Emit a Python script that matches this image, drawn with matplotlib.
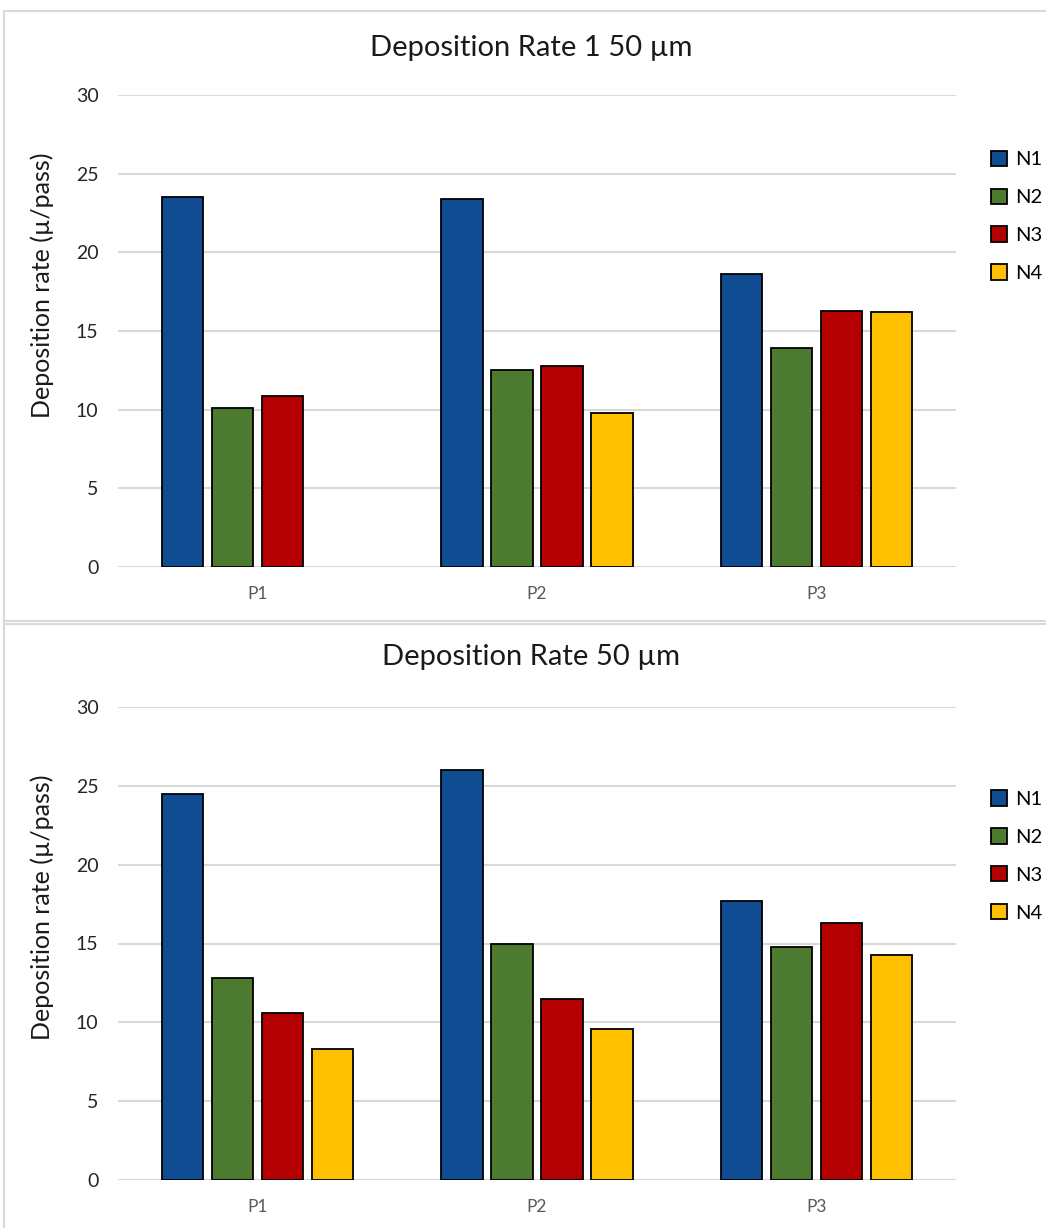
import numpy as np
import matplotlib
matplotlib.use("Agg")
import matplotlib.pyplot as plt
from matplotlib.lines import Line2D
from matplotlib.patches import Patch

plt.rcParams["font.family"] = ["Lato", "DejaVu Sans"]

passes = ["P1", "P2", "P3"]
nozzles = ["N1", "N2", "N3", "N4"]
colors = ["#0F4C92", "#4C7A2F", "#B40000", "#FFC000"]

# deposition rate per pass for each nozzle (NaN = not measured)
rate_150 = {
    "N1": [23.5, 23.4, 18.6],
    "N2": [10.1, 12.5, 13.9],
    "N3": [10.9, 12.8, 16.3],
    "N4": [np.nan, 9.8, 16.2],
}
rate_50 = {
    "N1": [24.5, 26.0, 17.7],
    "N2": [12.8, 15.0, 14.8],
    "N3": [10.6, 11.5, 16.3],
    "N4": [8.3, 9.6, 14.3],
}
titles = ["Deposition Rate 1 50 \u00b5m", "Deposition Rate 50 \u00b5m"]
ylabel = "Deposition rate (\u00b5/pass)"
yticks = [0, 5, 10, 15, 20, 25, 30]

W, H = 1046, 1228
fig = plt.figure(figsize=(W / 100, H / 100), dpi=100)

# panel frames
grey = "#D9D9D9"
for xs, ys in [((4, 4), (11, 1228)), ((4, 1046), (11, 11)), ((4, 1046), (621, 621)),
               ((4, 1046), (624, 624))]:
    fig.add_artist(Line2D([x / W for x in xs], [1 - y / H for y in ys],
                          color=grey, lw=1.5))

axes_px = [(95, 567), (707, 1180)]
title_y = [48, 657]
label_y = [285, 907]
legend_y = [0.743, 0.685]
slot = 0.179
bw = 0.147
x = np.arange(len(passes))

for data, title, (top, bot), ty, ly, lgy in zip([rate_150, rate_50], titles, axes_px,
                                               title_y, label_y, legend_y):
    ax = fig.add_axes([118 / W, 1 - bot / H, (956 - 118) / W, (bot - top) / H])
    for i, (n, c) in enumerate(zip(nozzles, colors)):
        ax.bar(x + (i - 1.5) * slot, data[n], width=bw, color=c,
               edgecolor="black", linewidth=1.3, zorder=3, label=n)
    ax.set_xlim(-0.5, 2.5)
    ax.set_ylim(0, 30)
    ax.set_yticks(yticks)
    ax.set_xticks(x)
    ax.set_xticklabels(passes)
    ax.grid(axis="y", color=grey, lw=1.5, zorder=0)
    for s in ax.spines.values():
        s.set_visible(False)
    ax.tick_params(axis="y", length=0, pad=14, labelsize=14, labelcolor="#262626")
    ax.tick_params(axis="x", length=0, pad=14, labelsize=12.5, labelcolor="#595959")

    fig.text(531 / W, 1 - ty / H, title, ha="center", va="center", fontsize=21,
             color="#1a1a1a")
    fig.text(42 / W, 1 - ly / H, ylabel, ha="center", va="center", rotation=90,
             fontsize=18, color="#1a1a1a")

    handles = [Patch(facecolor=c, edgecolor="black", linewidth=1.3) for c in colors]
    ax.legend(handles, nozzles, loc="center left", bbox_to_anchor=(1.042, lgy),
              frameon=False, fontsize=14.5, handlelength=0.8, handleheight=0.8,
              handletextpad=0.4, labelspacing=1.0, borderaxespad=0, borderpad=0)

fig.savefig("out.png", dpi=100, facecolor="white")
